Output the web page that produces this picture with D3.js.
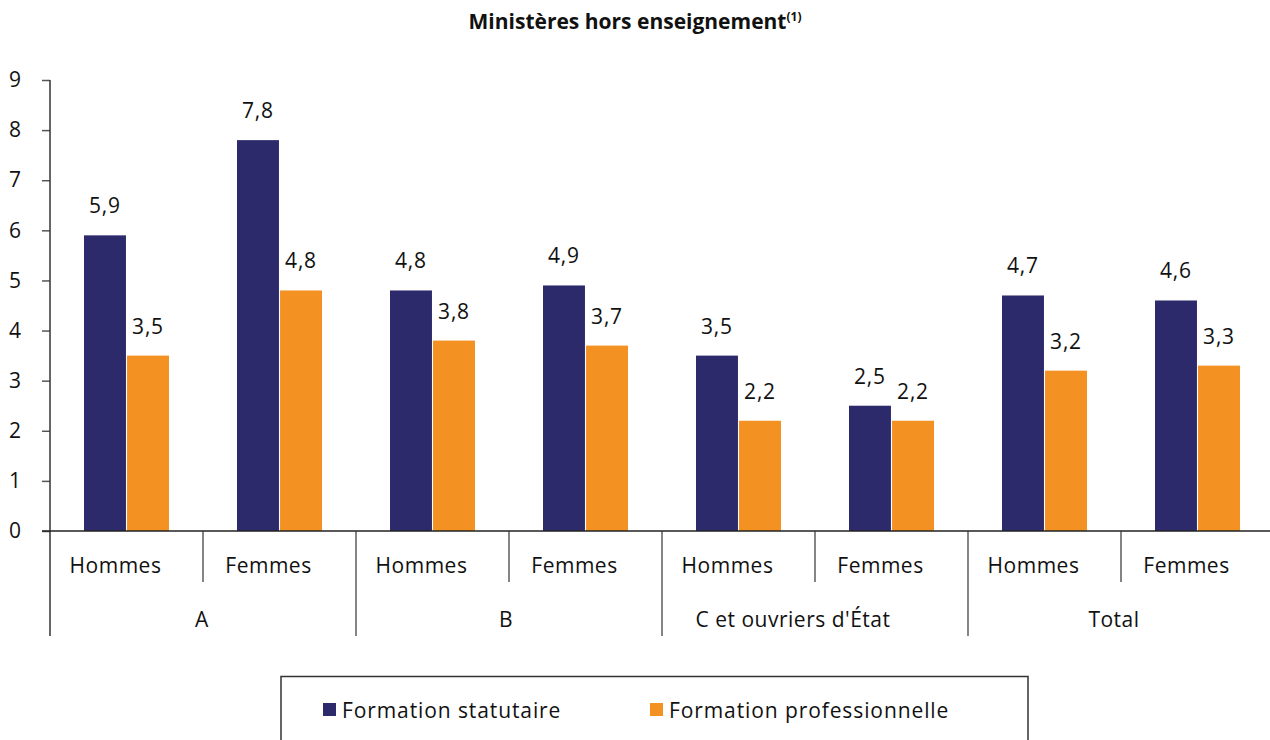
<!DOCTYPE html>
<html>
<head>
<meta charset="utf-8">
<script src="https://cdn.jsdelivr.net/npm/d3@7"></script>
<style>
  html, body { margin: 0; padding: 0; background: #fff; }
  svg { display: block; font-family: "Open Sans", "Noto Sans", sans-serif; }
</style>
</head>
<body>
<svg id="chart" width="1270" height="740"></svg>
<script>
// Grades and sexes along the category axis
const groups = ["A", "B", "C et ouvriers d'État", "Total"];
const sexes = ["Hommes", "Femmes"];
const series = ["Formation statutaire", "Formation professionnelle"];

// Days of training per agent, one value per grade × sex
const statutaire = [5.9, 7.8, 4.8, 4.9, 3.5, 2.5, 4.7, 4.6];
const professionnelle = [3.5, 4.8, 3.8, 3.7, 2.2, 2.2, 3.2, 3.3];

const yTicks = [0, 1, 2, 3, 4, 5, 6, 7, 8, 9];
const colors = ["#2d2a6c", "#f39223"];

(function () {
const svg = d3.select("#chart");
const plotL = 50, plotR = 1274, plotT = 80, plotB = 531;
const fs = 21;
// horizontal nudge of each grade label under its span
const groupLabelDx = [-1, -3, -22, -7];

const cells = [];
groups.forEach(g => sexes.forEach(s => cells.push(g + "|" + s)));

const x0 = d3.scaleBand().domain(cells).range([plotL, plotR]);
const x1 = d3.scaleBand().domain(series).range([34, x0.bandwidth() - 34]).paddingInner(0.025);
const y = d3.scaleLinear().domain([0, 9]).range([plotB, plotT]);

// Title
svg.append("text")
  .attr("x", 635).attr("y", 29)
  .attr("text-anchor", "middle")
  .attr("font-size", 21).attr("font-weight", 700).attr("fill", "#111")
  .text("Ministères hors enseignement")
  .append("tspan").attr("font-size", 12).attr("dy", -8).text("(1)");

// Y axis
const yAxis = d3.axisLeft(y).tickValues(yTicks).tickSize(8).tickPadding(20)
  .tickFormat(d3.format("d"));
const ya = svg.append("g").attr("transform", `translate(${plotL},0)`).call(yAxis);
ya.select(".domain").remove();
ya.selectAll("line").attr("stroke", "#555").attr("stroke-width", 1.5);
ya.selectAll("text").attr("font-size", fs).attr("fill", "#111").attr("text-anchor", "middle")
  .attr("x", -35)
  .attr("font-family", "'Open Sans', 'Noto Sans', sans-serif");
svg.append("line").attr("x1", plotL).attr("x2", plotL).attr("y1", plotT).attr("y2", 636)
  .attr("stroke", "#333").attr("stroke-width", 1.5);

// Bars
const rows = cells.map((c, i) => ({ cell: c, vals: [statutaire[i], professionnelle[i]] }));
const cg = svg.append("g").selectAll("g").data(rows).join("g")
  .attr("transform", d => `translate(${x0(d.cell)},0)`);
cg.selectAll("rect").data(d => d.vals.map((v, k) => ({ v, k })))
  .join("rect")
  .attr("x", d => x1(series[d.k]))
  .attr("width", x1.bandwidth())
  .attr("y", d => y(d.v))
  .attr("height", d => y(0) - y(d.v))
  .attr("fill", d => colors[d.k]);
cg.selectAll("text").data(d => d.vals.map((v, k) => ({ v, k })))
  .join("text")
  .attr("x", d => x1(series[d.k]) + x1.bandwidth() / 2)
  .attr("y", d => y(d.v) - 22)
  .attr("text-anchor", "middle")
  .attr("font-size", fs).attr("letter-spacing", 0.8).attr("fill", "#111")
  .text(d => d3.format(".1f")(d.v).replace(".", ","));

// Category axis baseline
svg.append("line").attr("x1", plotL - 8).attr("x2", 1270).attr("y1", plotB).attr("y2", plotB)
  .attr("stroke", "#222").attr("stroke-width", 1.5);

// Sub-category separators and labels
cells.forEach((c, i) => {
  const xs = x0(c);
  if (i > 0) {
    const isGroup = i % 2 === 0;
    svg.append("line").attr("x1", xs).attr("x2", xs)
      .attr("y1", plotB).attr("y2", isGroup ? 636 : 582)
      .attr("stroke", "#333").attr("stroke-width", 1.2);
  }
  svg.append("text")
    .attr("x", xs + x0.bandwidth() / 2 - 11).attr("y", 573)
    .attr("text-anchor", "middle").attr("font-size", fs).attr("letter-spacing", 0.5)
    .attr("fill", "#111")
    .text(c.split("|")[1]);
});
groups.forEach((g, i) => {
  const xs = x0(g + "|" + sexes[0]);
  svg.append("text")
    .attr("x", xs + x0.bandwidth() + groupLabelDx[i]).attr("y", 627)
    .attr("text-anchor", "middle").attr("font-size", fs).attr("letter-spacing", 0.5)
    .attr("fill", "#111")
    .text(g);
});

// Legend
svg.append("rect").attr("x", 281).attr("y", 676.5).attr("width", 747).attr("height", 80)
  .attr("fill", "none").attr("stroke", "#333").attr("stroke-width", 1.5);
const legendX = [323, 650];
series.forEach((s, k) => {
  svg.append("rect").attr("x", legendX[k]).attr("y", 703).attr("width", 13).attr("height", 13)
    .attr("fill", colors[k]);
  svg.append("text").attr("x", legendX[k] + 19).attr("y", 718)
    .attr("font-size", fs).attr("letter-spacing", 0.9).attr("fill", "#111").text(s);
});
})();
</script>
</body>
</html>
